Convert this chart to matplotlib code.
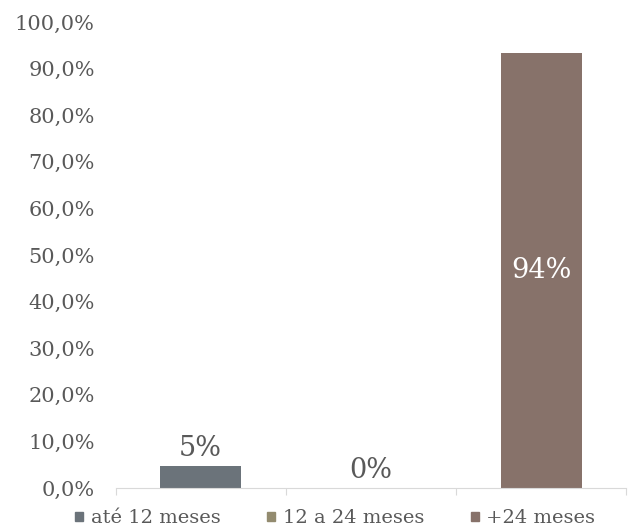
import matplotlib
matplotlib.use("Agg")
import matplotlib.pyplot as plt
from matplotlib.patches import Patch

categories = ["até 12 meses", "12 a 24 meses", "+24 meses"]
values = [4.8, 0.0, 93.4]
labels = ["5%", "0%", "94%"]
colors = ["#6b737a", "#938b6f", "#87726a"]
yticks = [0, 10, 20, 30, 40, 50, 60, 70, 80, 90, 100]

plt.rcParams['font.family'] = ['DejaVu Serif']
text_col = "#595959"

fig = plt.figure(figsize=(6.35, 5.27), dpi=100)
ax = fig.add_axes([0.182, 0.074, 0.804, 0.884])

x = range(len(categories))
bars = ax.bar(x, values, width=0.476, color=colors)

for i, (v, lab) in enumerate(zip(values, labels)):
    if v > 50:
        ax.text(i, v / 2, lab, ha="center", va="center", color="white", fontsize=19.5)
    else:
        ax.text(i, v + 0.8, lab, ha="center", va="bottom", color=text_col, fontsize=19.5)

ax.set_xlim(-0.5, 2.5)
ax.set_ylim(0, 100)
ax.set_yticks(yticks)
ax.set_yticklabels(["%d,0%%" % t for t in yticks], color=text_col, fontsize=15)
ax.tick_params(axis="y", length=0, pad=15)
ax.set_xticks([-0.5, 0.5, 1.5, 2.5])
ax.set_xticklabels([])
ax.tick_params(axis="x", length=5, color="#d9d9d9", direction="out")
for s in ["top", "right", "left"]:
    ax.spines[s].set_visible(False)
ax.spines["bottom"].set_color("#d9d9d9")

handles = [Patch(color=c) for c in colors]
fig.legend(handles, categories, loc="lower center", bbox_to_anchor=(0.528, -0.034),
           ncol=3, frameon=False, fontsize=14, handlelength=0.4, handleheight=0.4,
           handletextpad=0.4, columnspacing=2.4, labelcolor=text_col)

fig.savefig("out.png", dpi=100)
